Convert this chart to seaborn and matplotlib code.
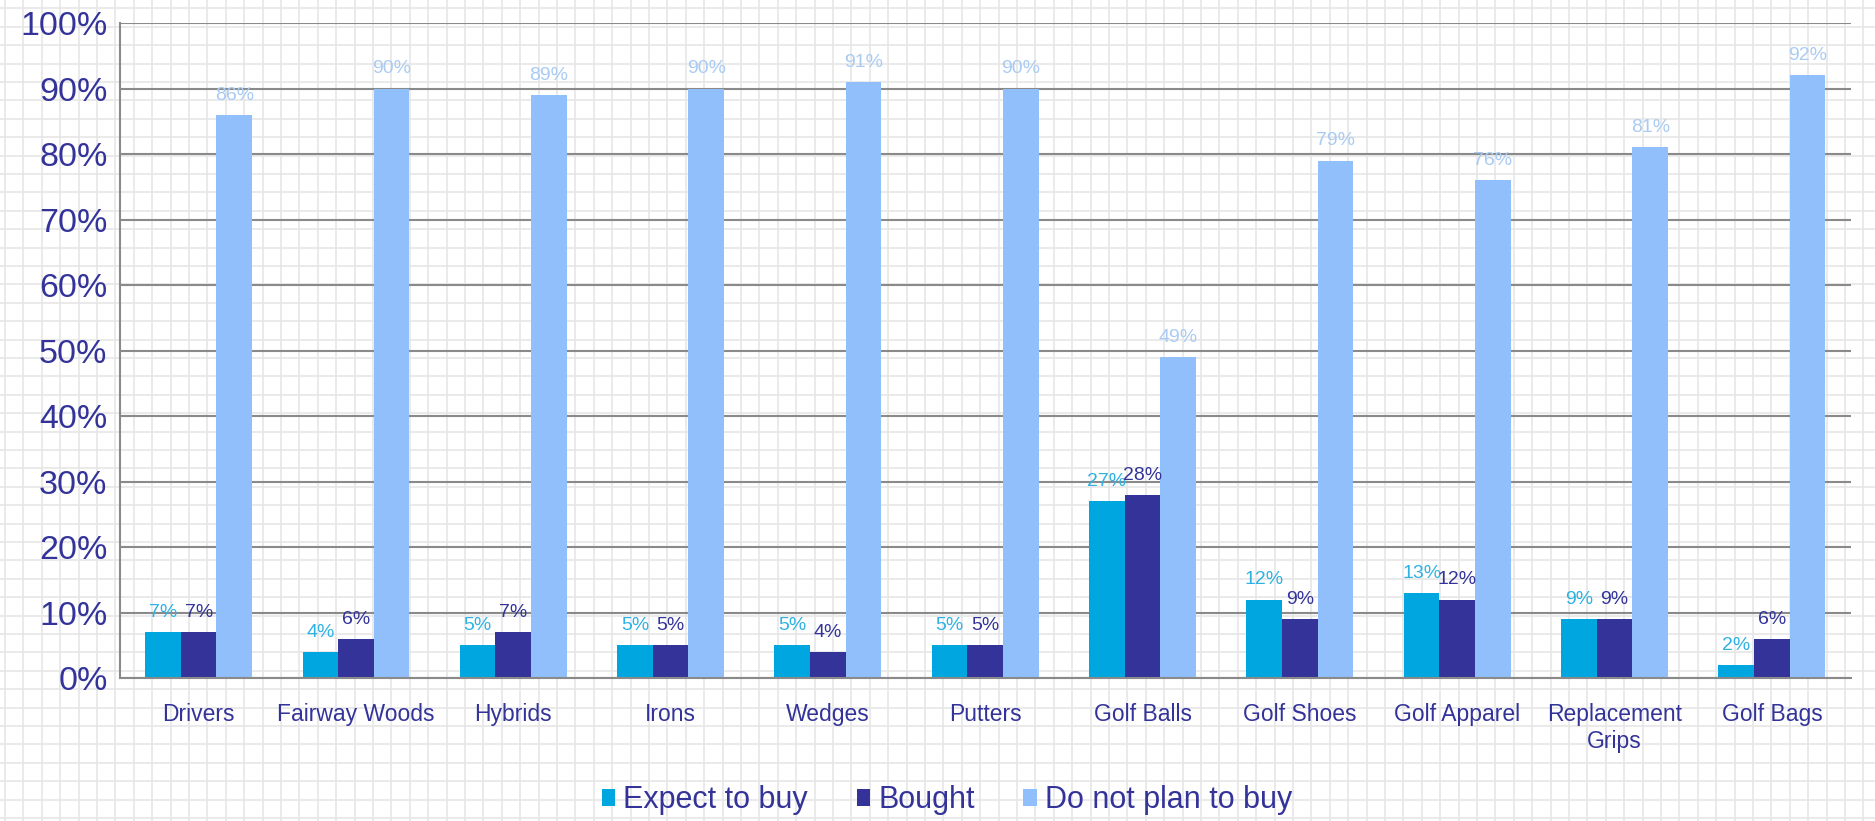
import numpy as np
import pandas as pd
import seaborn as sns
import matplotlib.pyplot as plt
from matplotlib.ticker import FixedLocator, PercentFormatter

categories = ["Drivers", "Fairway Woods", "Hybrids", "Irons", "Wedges", "Putters",
              "Golf Balls", "Golf Shoes", "Golf Apparel", "Replacement\nGrips", "Golf Bags"]
expect_to_buy = [7, 4, 5, 5, 5, 5, 27, 12, 13, 9, 2]
bought = [7, 6, 7, 5, 4, 5, 28, 9, 12, 9, 6]
do_not_plan = [86, 90, 89, 90, 91, 90, 49, 79, 76, 81, 92]
series = ["Expect to buy", "Bought", "Do not plan to buy"]

bar_colors = ["#00A6E0", "#333399", "#91BFFB"]
label_colors = ["#2EB2E3", "#333399", "#A9CBF3"]
navy = "#33339A"

df = pd.DataFrame({"Category": categories * 3,
                   "Series": np.repeat(series, len(categories)),
                   "Value": expect_to_buy + bought + do_not_plan})

sns.set_style("white")
plt.rcParams["font.family"] = ["Liberation Sans", "DejaVu Sans"]

fig = plt.figure(figsize=(18.75, 8.21), dpi=100)

# graph-paper background
bg = fig.add_axes([0, 0, 1, 1], zorder=-1)
bg.set_xlim(0, 1875)
bg.set_ylim(0, 821)
bg.set_xticks(np.arange(5, 1875, 18.4))
bg.set_yticks(np.arange(3, 821, 18.4))
bg.grid(True, color="#e6e6e6", lw=1.2)
bg.tick_params(length=0, labelbottom=False, labelleft=False)
for s in bg.spines.values():
    s.set_visible(False)

ax = fig.add_axes([0.064, 0.174, 0.923, 0.798])
ax.patch.set_alpha(0)
sns.barplot(data=df, x="Category", y="Value", hue="Series", palette=bar_colors,
            width=0.68, gap=0, saturation=1, linewidth=0, ax=ax, legend=True)

for cont, col in zip(ax.containers, label_colors):
    ax.bar_label(cont, labels=[f"{v:.0f}%" for v in cont.datavalues],
                 color=col, fontsize=14, padding=8)

ax.set_ylim(0, 100)
ax.set_xlim(-0.5, len(categories) - 0.5)
ax.yaxis.set_major_locator(FixedLocator(range(0, 101, 10)))
ax.yaxis.set_major_formatter(PercentFormatter(decimals=0))
ax.grid(axis="y", color="#8a8a8a", lw=1.5)
ax.set_axisbelow(True)
ax.set_xlabel("")
ax.set_ylabel("")

for side in ["top", "right"]:
    ax.spines[side].set_visible(False)
for side in ["left", "bottom"]:
    ax.spines[side].set_color("#8a8a8a")
    ax.spines[side].set_linewidth(1.5)

ax.tick_params(axis="y", labelsize=24.5, labelcolor=navy, length=9, color="#8a8a8a",
               width=1.5, pad=0)
ax.tick_params(axis="x", which="major", labelsize=16.5, labelcolor=navy, length=0, pad=18)
ax.xaxis.set_minor_locator(FixedLocator(np.arange(0.5, len(categories) - 0.5 + 1, 1)))
ax.tick_params(axis="x", which="minor", length=9, color="#8a8a8a", width=1.5)

handles, labels = ax.get_legend_handles_labels()
ax.legend_.remove()
fig.legend(handles, labels, loc="center", bbox_to_anchor=(0.505, 0.025), ncol=3,
           frameon=False, fontsize=22, labelcolor=navy, handlelength=0.45,
           handleheight=0.45, handletextpad=0.25, columnspacing=1.6)

fig.savefig("out.png", dpi=100)
plt.close(fig)
